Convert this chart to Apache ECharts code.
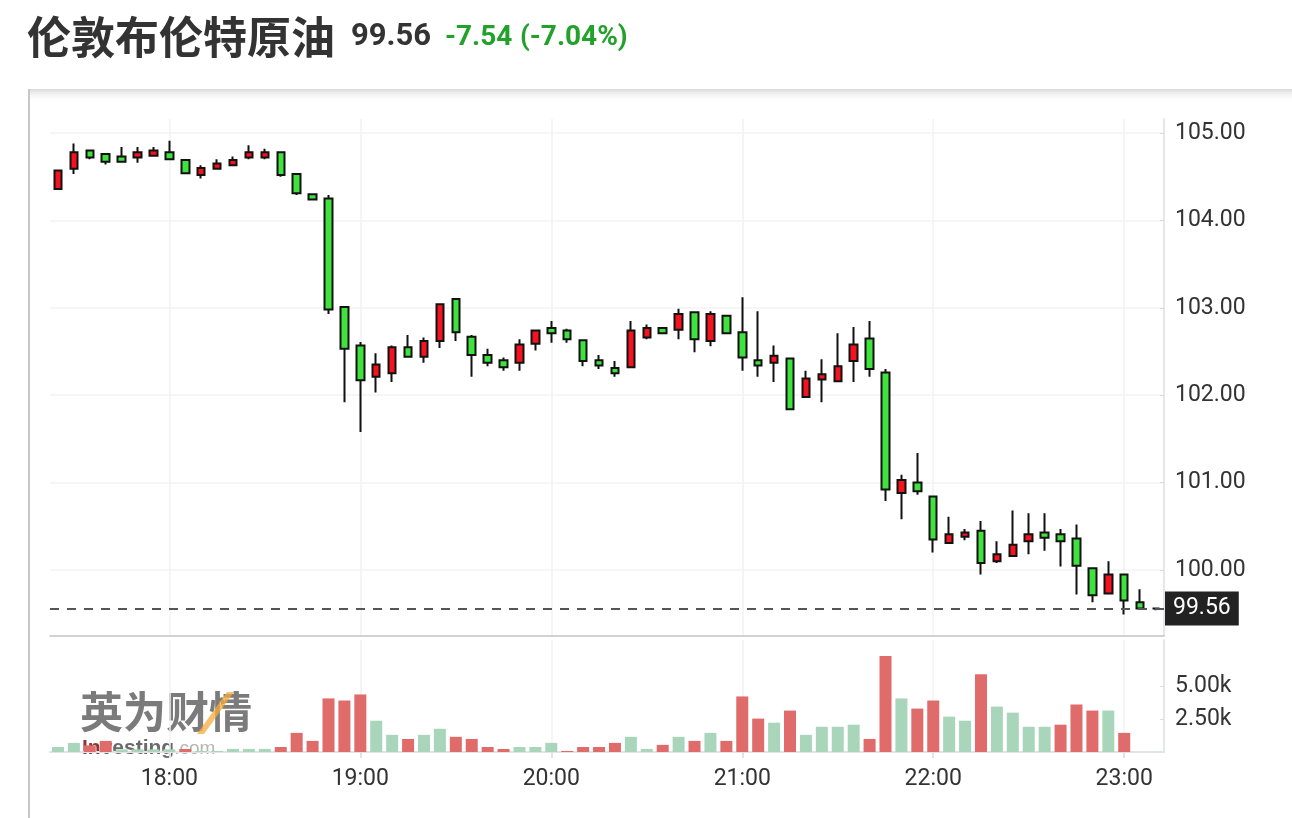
<!DOCTYPE html>
<html><head><meta charset="utf-8">
<script src="https://cdn.jsdelivr.net/npm/echarts@6/dist/echarts.min.js"></script>
<style>html,body{margin:0;padding:0;background:#fff}#c{width:1292px;height:818px}</style>
</head><body><div id="c"></div><script>
const times = ['17:25','17:30','17:35','17:40','17:45','17:50','17:55',
 '18:00','18:05','18:10','18:15','18:20','18:25','18:30','18:35','18:40','18:45','18:50','18:55',
 '19:00','19:05','19:10','19:15','19:20','19:25','19:30','19:35','19:40','19:45','19:50','19:55',
 '20:00','20:05','20:10','20:15','20:20','20:25','20:30','20:35','20:40','20:45','20:50','20:55',
 '21:00','21:05','21:10','21:15','21:20','21:25','21:30','21:35','21:40','21:45','21:50','21:55',
 '22:00','22:05','22:10','22:15','22:20','22:25','22:30','22:35','22:40','22:45','22:50','22:55',
 '23:00','23:05','23:10'];
const open  = [104.36,104.59,104.80,104.76,104.73,104.72,104.74,104.78,104.69,104.52,104.59,104.63,104.72,104.72,104.78,104.53,104.30,104.25,103.01,102.57,102.21,102.25,102.55,102.44,102.62,103.10,102.67,102.46,102.40,102.37,102.59,102.77,102.74,102.63,102.40,102.31,102.32,102.66,102.77,102.75,102.95,102.62,102.91,102.72,102.40,102.37,102.42,101.98,102.18,102.16,102.39,102.65,102.26,100.88,101.00,100.84,100.31,100.38,100.45,100.10,100.16,100.33,100.43,100.41,100.36,100.02,99.73,99.95,99.63,99.56];
const close = [104.57,104.78,104.72,104.67,104.67,104.78,104.80,104.70,104.54,104.60,104.65,104.69,104.78,104.78,104.52,104.31,104.24,102.98,102.53,102.17,102.35,102.55,102.44,102.62,103.04,102.72,102.46,102.37,102.32,102.58,102.74,102.71,102.64,102.39,102.34,102.25,102.74,102.77,102.71,102.93,102.64,102.93,102.71,102.43,102.34,102.45,101.84,102.19,102.24,102.33,102.58,102.30,100.92,101.03,100.90,100.35,100.41,100.43,100.08,100.18,100.29,100.41,100.37,100.33,100.05,99.71,99.95,99.65,99.56,99.56];
const low   = [104.36,104.53,104.70,104.64,104.67,104.66,104.74,104.70,104.54,104.48,104.59,104.62,104.70,104.70,104.50,104.29,104.23,102.93,101.92,101.58,102.03,102.15,102.44,102.37,102.54,102.62,102.21,102.33,102.28,102.28,102.51,102.60,102.60,102.33,102.30,102.21,102.32,102.64,102.71,102.64,102.49,102.56,102.71,102.28,102.21,102.15,101.84,101.98,101.92,102.16,102.15,102.21,100.79,100.58,100.86,100.20,100.31,100.34,99.95,100.08,100.15,100.18,100.22,100.04,99.72,99.63,99.72,99.49,99.56,99.54];
const high  = [104.57,104.88,104.80,104.77,104.84,104.84,104.84,104.91,104.70,104.63,104.70,104.73,104.86,104.82,104.79,104.54,104.30,104.29,103.01,102.61,102.48,102.57,102.69,102.66,103.05,103.10,102.69,102.53,102.43,102.64,102.74,102.85,102.76,102.64,102.46,102.39,102.85,102.81,102.78,102.99,102.95,102.96,102.92,103.12,102.96,102.57,102.43,102.28,102.41,102.71,102.78,102.85,102.30,101.09,101.34,100.84,100.61,100.47,100.56,100.33,100.68,100.65,100.65,100.47,100.52,100.02,100.10,99.95,99.78,99.56];
const volume = [380,690,500,840,200,200,200,200,230,80,80,230,230,230,380,1450,840,4060,3900,4360,2370,1300,990,1300,1760,1150,990,380,230,380,380,690,80,380,380,690,1150,230,540,1150,840,1450,840,4210,2530,2220,3140,1300,1910,1910,2070,990,7270,4060,3290,3900,2680,2370,5890,3440,2980,1910,1910,2070,3600,3140,3140,1450,null,null];
const volumeSide = ['u','u','d','d','u','u','u','u','d','u','u','u','u','u','d','d','d','d','d','d','u','u','d','u','u','d','d','d','d','u','u','u','d','d','d','d','u','u','d','u','d','u','d','d','d','u','d','u','u','u','u','d','d','u','d','d','u','u','d','u','u','u','u','d','d','d','u','d','u','u'];
const priceTicks = [100, 101, 102, 103, 104, 105];
const volumeTicks = [2500, 5000];
const hourLabels = ['18:00','19:00','20:00','21:00','22:00','23:00'];
const instrument = '伦敦布伦特原油';
const lastPrice = 99.56;
const change = -7.54;
const changePct = -7.04;

const UP = '#f5131f', DOWN = '#3ee33e';
const VRED = '#df6b6b', VGREEN = '#a9d6ba';
const isHour = (idx, v) => hourLabels.indexOf(v) >= 0;
const FONT = 'Roboto';

const chart = echarts.init(document.getElementById('c'), null, {renderer: 'canvas'});
chart.setOption({
  animation: false,
  backgroundColor: '#fff',
  graphic: [
    {type: 'rect', z: -10, shape: {x: 29, y: 89, width: 1300, height: 740}, style: {fill: '#fff'}},
    {type: 'rect', z: -9, shape: {x: 29, y: 89, width: 1300, height: 14},
     style: {fill: new echarts.graphic.LinearGradient(0, 0, 0, 1, [{offset: 0, color: '#d9d9d9'}, {offset: 0.25, color: '#ececec'}, {offset: 1, color: 'rgba(255,255,255,0)'}])}},
    {type: 'line', z: -8, shape: {x1: 29, y1: 89, x2: 29, y2: 818}, style: {stroke: '#c8c8c8', lineWidth: 2}},
    {type: 'text', left: 27, top: 15, style: {text: instrument, font: 'bold 44px "Noto Sans CJK SC"', fill: '#333'}},
    {type: 'text', left: 351, top: 22, style: {text: lastPrice.toFixed(2), font: 'bold 31px Roboto', fill: '#333'}},
    {type: 'text', left: 445, top: 24, style: {text: change.toFixed(2), font: 'bold 28px Roboto', fill: '#22a22a'}},
    {type: 'text', left: 520, top: 24, style: {text: '(' + changePct.toFixed(2) + '%)', font: 'bold 28px Roboto', fill: '#22a22a'}},
    {type: 'group', z: 100, children: [
      {type: 'text', left: 80, top: 690, style: {text: '英为财情', font: 'bold 43px "Noto Sans CJK SC"', fill: 'rgba(100,100,100,0.85)'}},
      {type: 'polygon', shape: {points: [[197, 734], [204, 734], [234, 692], [227, 692]]}, style: {fill: 'rgba(245,170,60,0.75)'}},
      {type: 'text', left: 82, top: 738, style: {rich: {a: {font: 'bold 21px "Liberation Sans"', fill: 'rgba(120,20,20,0.85)'}, b: {font: 'bold 21px "Liberation Sans"', fill: 'rgba(80,80,80,0.85)'}, c: {font: '19px "Liberation Sans"', fill: 'rgba(150,150,150,0.7)'}}, text: '{a|In}{b|vesting}{c|.com}'}}
    ]}
  ],
  grid: [
    {left: 50, right: 128, top: 119, height: 517},
    {left: 50, right: 128, top: 640, height: 112}
  ],
  xAxis: [
    {type: 'category', gridIndex: 0, data: times, boundaryGap: true,
     axisLine: {show: true, lineStyle: {color: '#c4c4c4', width: 1.5}},
     axisTick: {show: false}, axisLabel: {show: false},
     splitLine: {show: true, interval: isHour, alignWithLabel: true, lineStyle: {color: '#f2f2f2', width: 1.5}}},
    {type: 'category', gridIndex: 1, data: times, boundaryGap: true,
     axisLine: {show: true, lineStyle: {color: '#e0e4e9', width: 2}},
     axisTick: {show: true, interval: isHour, alignWithLabel: true, length: 6, lineStyle: {color: '#e0e4e9', width: 2}},
     axisLabel: {show: true, interval: isHour, color: '#333', fontSize: 23, fontFamily: FONT, margin: 16},
     splitLine: {show: true, interval: isHour, alignWithLabel: true, lineStyle: {color: '#f2f2f2', width: 1.5}}}
  ],
  yAxis: [
    {type: 'value', gridIndex: 0, position: 'right', min: 99.245, max: 105.16, scale: true,
     axisLine: {show: true, lineStyle: {color: '#e4e8ec', width: 2}},
     axisTick: {show: true, inside: true, length: 4, customValues: priceTicks, lineStyle: {color: '#dcdcdc'}},
     axisLabel: {customValues: priceTicks, formatter: v => v.toFixed(2), color: '#333', fontSize: 23, fontFamily: FONT, margin: 11},
     splitLine: {show: true, lineStyle: {color: '#f3f3f3', width: 1.5}}},
    {type: 'value', gridIndex: 1, position: 'right', min: 0, max: 8485,
     axisLine: {show: true, lineStyle: {color: '#e4e8ec', width: 2}},
     axisTick: {show: true, inside: true, length: 4, customValues: volumeTicks, lineStyle: {color: '#dcdcdc'}},
     axisLabel: {customValues: volumeTicks, formatter: v => (v / 1000).toFixed(2) + 'k', color: '#333', fontSize: 23, fontFamily: FONT, margin: 11},
     splitLine: {show: false}}
  ],
  series: [
    {type: 'candlestick', xAxisIndex: 0, yAxisIndex: 0, barWidth: 8,
     data: times.map((t, i) => [open[i], close[i], low[i], high[i]]),
     itemStyle: {color: UP, color0: DOWN, borderColor: '#111', borderColor0: '#111', borderWidth: 2},
     markLine: {silent: true, symbol: ['none', 'none'], animation: false,
       lineStyle: {type: [9, 8], color: '#555', width: 2},
       label: {show: true, position: 'end', distance: 1, formatter: () => lastPrice.toFixed(2), backgroundColor: '#222', color: '#fff', padding: [6, 8, 5, 8], fontSize: 23, fontFamily: FONT},
       data: [{yAxis: lastPrice}]}},
    {type: 'bar', xAxisIndex: 1, yAxisIndex: 1, barWidth: 12,
     data: volume.map((v, i) => ({value: v, itemStyle: {color: volumeSide[i] === 'd' ? VRED : VGREEN}}))}
  ]
});
</script></body></html>
